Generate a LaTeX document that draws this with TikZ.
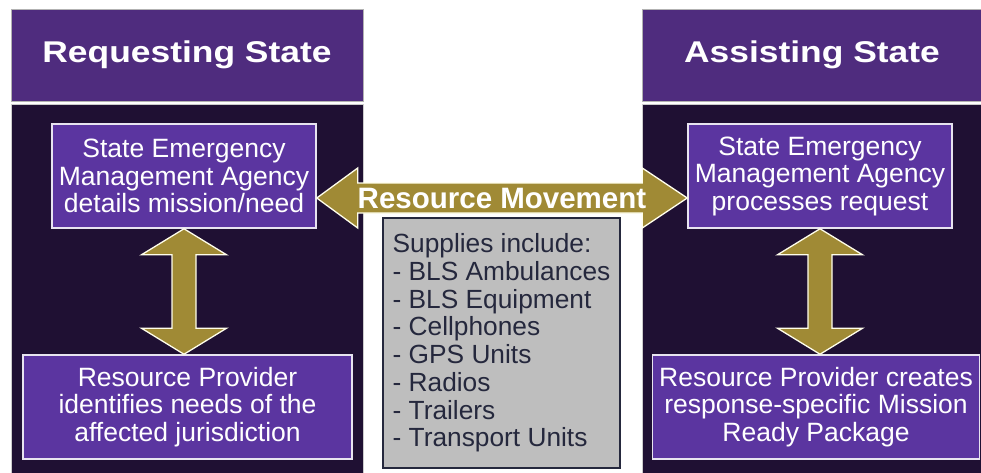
\documentclass[tikz,border=0pt]{standalone}
\usepackage{fontspec}
\setmainfont{Liberation Sans}
\usetikzlibrary{calc}
\definecolor{hdr}{HTML}{4F2C7E}
\definecolor{bodyc}{HTML}{1F1033}
\definecolor{boxp}{HTML}{5B35A0}
\definecolor{boxedge}{HTML}{E8E4F0}
\definecolor{gold}{HTML}{A08A35}
\definecolor{grayfill}{HTML}{BEBEBE}
\definecolor{navy}{HTML}{25283D}
\tikzset{
  panelhdr/.style={fill=hdr, draw=gray!60, line width=0.6pt, inner sep=0pt, text=white},
  panelbody/.style={fill=bodyc, draw=gray!40, line width=0.6pt, inner sep=0pt},
  stepbox/.style={fill=boxp, draw=boxedge, line width=1.5pt, inner sep=0pt, text=white,
    align=center, font=\fontsize{26.5}{27.5}\selectfont},
  supbox/.style={fill=grayfill, draw=navy, line width=1.4pt, inner sep=0pt},
  goldarrow/.style={fill=gold, draw=white!92!yellow, line width=1.3pt, line join=miter},
}
\begin{document}
\begin{tikzpicture}[x=1pt,y=-1pt]
\useasboundingbox (0,0) rectangle (981,472);
\fill[white] (0,0) rectangle (981,472);
% panels
\node[panelhdr, minimum width=352, minimum height=92] (hdrL) at (187,55)
  {\bfseries\fontsize{30}{32}\selectfont\scalebox{1.18}[1]{Requesting State}};
\node[panelbody, minimum width=352, minimum height=370] (bodyL) at (187,289) {};
\node[panelhdr, minimum width=340, minimum height=92] (hdrR) at (812,55)
  {\bfseries\fontsize{30}{32}\selectfont\scalebox{1.18}[1]{Assisting State}};
\node[panelbody, minimum width=340, minimum height=370] (bodyR) at (812,289) {};
% step boxes
\node[stepbox, minimum width=264, minimum height=104] (semaL) at (184,176)
  {State Emergency\\Management Agency\\details mission/need};
\node[stepbox, minimum width=329, minimum height=104] (rpL) at (187.5,407)
  {Resource Provider\\identifies needs of the\\affected jurisdiction};
\node[stepbox, minimum width=264, minimum height=104] (semaR) at (820,176)
  {State Emergency\\Management Agency\\processes request};
\node[stepbox, minimum width=327, minimum height=104] (rpR) at (816,407)
  {Resource Provider creates\\response-specific Mission\\Ready Package};
% supplies box
\node[supbox, minimum width=237, minimum height=250] (sup) at (501.5,343) {};
\node[text=navy, align=left, inner sep=0pt, font=\fontsize{26.3}{27.7}\selectfont] (suptext) at (sup.center)
  {Supplies include:\\- BLS Ambulances\\- BLS Equipment\\- Cellphones\\- GPS Units\\- Radios\\- Trailers\\- Transport Units};
% vertical arrows
\coordinate (aLt) at (semaL.south);
\coordinate (aLb) at (semaL.south |- rpL.north);
\draw[goldarrow] (aLt) -- ++(42.5,26) -- ++(-30.5,0) -- ($(aLb)+(12,-26)$) -- ++(30.5,0) -- (aLb)
  -- ++(-42.5,-26) -- ++(30.5,0) -- ($(aLt)+(-12,26)$) -- ++(-30.5,0) -- cycle;
\coordinate (aRt) at (semaR.south);
\coordinate (aRb) at (semaR.south |- rpR.north);
\draw[goldarrow] (aRt) -- ++(42.5,26) -- ++(-30.5,0) -- ($(aRb)+(12,-26)$) -- ++(30.5,0) -- (aRb)
  -- ++(-42.5,-26) -- ++(30.5,0) -- ($(aRt)+(-12,26)$) -- ++(-30.5,0) -- cycle;
% horizontal arrow
\coordinate (hL) at ($(semaL.east)+(0,22)$);
\coordinate (hR) at ($(semaR.west)+(0,22)$);
\draw[goldarrow] (hL) -- ++(41,-30) -- ++(0,15) -- ($(hR)+(-45,-15)$) -- ++(0,-15) -- (hR)
  -- ++(-45,30) -- ++(0,-15) -- ($(hL)+(41,15)$) -- ++(0,15) -- cycle;
\node[text=white, inner sep=0pt, font=\bfseries\fontsize{29.5}{30}\selectfont] (rm) at ($(hL)!0.5!(hR)$) {Resource Movement};
\end{tikzpicture}
\end{document}
